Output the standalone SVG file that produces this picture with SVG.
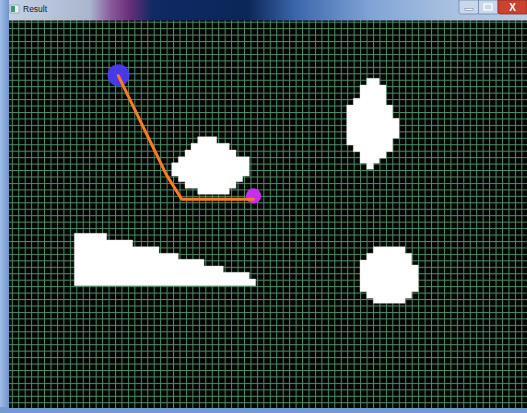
<svg xmlns="http://www.w3.org/2000/svg" width="527" height="413" viewBox="0 0 527 413">
<defs>
<linearGradient id="title" x1="0" y1="0" x2="1" y2="0">
<stop offset="0" stop-color="#c7d4e4"/>
<stop offset="0.17" stop-color="#a9b6cf"/>
<stop offset="0.21" stop-color="#8a5a9c"/>
<stop offset="0.245" stop-color="#6a2f7a"/>
<stop offset="0.29" stop-color="#0f2a64"/>
<stop offset="0.47" stop-color="#0b2658"/>
<stop offset="0.56" stop-color="#3b66aa"/>
<stop offset="0.7" stop-color="#7fa3d6"/>
<stop offset="0.85" stop-color="#a8c0e0"/>
<stop offset="1" stop-color="#b9cbe4"/>
</linearGradient>
<linearGradient id="frameL" x1="0" y1="0" x2="1" y2="0">
<stop offset="0" stop-color="#9fbde6"/>
<stop offset="1" stop-color="#6f95cc"/>
</linearGradient>
<pattern id="grid" patternUnits="userSpaceOnUse" x="11.8" y="21.7" width="6.45" height="6.45">
<rect width="6.45" height="6.45" fill="#030503"/>
<line x1="0.5" y1="0" x2="0.5" y2="6.45" stroke="#4f8c66" stroke-width="1"/>
<line x1="0" y1="0.5" x2="6.45" y2="0.5" stroke="#4f8c66" stroke-width="1"/>
</pattern>
<style>
.obs{fill:#ffffff;stroke:#d8d8d8;stroke-width:0.4}
.btn{fill:#c9d7ea;stroke:#6d85a8;stroke-width:0.8}
</style>
</defs>
<rect x="0" y="0" width="527" height="413" fill="#7fa3d6"/>
<rect x="0" y="0" width="527" height="21" fill="url(#title)"/>
<rect x="0" y="0" width="9" height="413" fill="url(#frameL)"/>
<rect x="0" y="407" width="527" height="6" fill="#7199d2"/>
<rect x="9" y="20.5" width="518" height="387.5" fill="url(#grid)"/>
<g id="titlebar">
<rect x="10" y="5" width="9" height="8" fill="#e9eef4" stroke="#7a8ea8" stroke-width="0.6"/>
<rect x="11" y="6" width="4" height="6" fill="#3a9a6a"/>
<text x="23" y="12" font-family="Liberation Sans, Arial, sans-serif" font-size="8.5" fill="#1a1a1a">Result</text>
<path class="btn" d="M459,0 H478.5 V12 Q478.5,14 476.5,14 H461 Q459,14 459,12 Z"/>
<rect x="465" y="8.5" width="8" height="2" fill="#ffffff" stroke="#4a5f80" stroke-width="0.4"/>
<path class="btn" d="M478.5,0 H498 V14 H478.5 Z"/>
<rect x="484" y="4" width="8" height="6" fill="none" stroke="#ffffff" stroke-width="1.3"/>
<path d="M498,0 H527 V14 H500 Q498,14 498,12 Z" fill="#c9432f" stroke="#8a2a1e" stroke-width="0.8"/>
<text x="512.5" y="11" text-anchor="middle" font-family="Liberation Sans, Arial, sans-serif" font-size="10" font-weight="bold" fill="#ffffff">X</text>
</g>
<g id="obstacle-diamond-left">
<path class="obs" d="M197.7,136.7 H216.7 V143.3 H229.3 V150 H236 V156.7 H249.3 V176 H242.7 V181.7 H236 V188.3 H229.3 V194.3 H197.7 V188.3 H185 V181.7 H178.3 V176 H171.7 V162.7 H178.3 V156.7 H185 V150 H191 V143.3 H197.7 Z"/>
</g>
<g id="obstacle-diamond-right">
<path class="obs" d="M366.7,78.3 H379.3 V85 H386 V105 H392.7 V118.3 H399 V138.3 H392.7 V151.7 H386 V158.3 H379.3 V163.3 H373.3 V169.3 H366.7 V163.3 H360 V151.7 H353.3 V145 H346.7 V105 H353.3 V98.3 H360 V85 H366.7 Z"/>
</g>
<g id="obstacle-triangle">
<path class="obs" d="M74.3,233.3 H106.7 V240 H132.7 V246.7 H159 V253.3 H178.3 V259.3 H204 V266 H223.3 V272.3 H249.3 V279 H255.7 V285.7 H74.3 Z"/>
</g>
<g id="obstacle-circle">
<path class="obs" d="M373.3,246.7 H405 V253.3 H411.7 V265 H418.3 V291.7 H411.7 V298.3 H405 V303.3 H373.3 V298.3 H366.7 V291.7 H360 V260 H366.7 V253.3 H373.3 Z"/>
</g>
<g id="start">
<circle cx="118.5" cy="75.3" r="11" fill="#4b3af2" fill-opacity="0.95"/>
</g>
<g id="goal">
<circle cx="253.5" cy="195.8" r="7.6" fill="#c92ef0"/>
</g>
<g id="connectors">
<polyline points="118.3,75.7 166.7,175.3 181.7,199.3 253.3,199.3" fill="none" stroke="#ff7a1a" stroke-width="3" stroke-linejoin="round" stroke-linecap="round"/>
</g>
</svg>
